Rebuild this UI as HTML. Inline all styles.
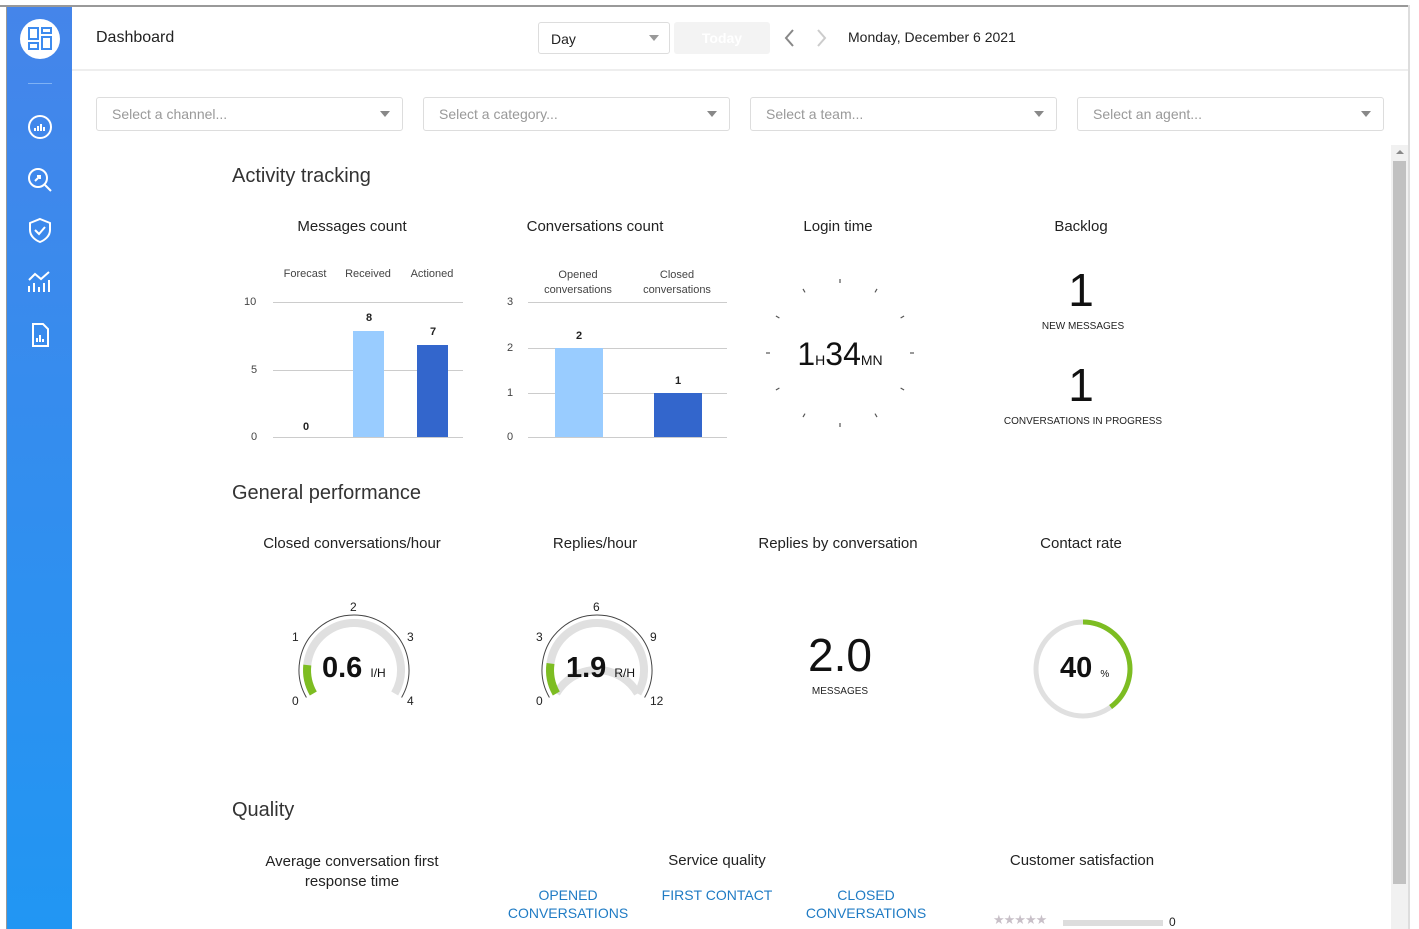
<!DOCTYPE html>
<html><head><meta charset="utf-8"><style>
*{margin:0;padding:0;box-sizing:border-box}
body{width:1419px;height:929px;overflow:hidden;background:#fff;font-family:"Liberation Sans",sans-serif;position:relative;color:#222}
.a{position:absolute;white-space:nowrap}
.c{position:absolute;white-space:nowrap;transform:translateX(-50%);text-align:center}
.sel{position:absolute;top:97px;height:34px;width:307px;border:1px solid #ddd;border-radius:3px;color:#999;font-size:14px;padding:8px 15px}
.sel:after{content:"";position:absolute;right:12px;top:13px;border:5px solid transparent;border-top:6px solid #888}
.h2{position:absolute;font-size:20px;color:#333;font-weight:300}
.t{font-size:15px;color:#222}
.ax{font-size:11px;color:#444}
.gl{position:absolute;height:1px;background:#ccc}
.blue{color:#1f7bc4;font-size:14px;line-height:18px}
</style></head><body>
<div class="a" style="left:0;top:5px;width:1410px;height:2px;background:#999"></div>
<div class="a" style="left:6px;top:5px;width:2px;height:924px;background:#999"></div>
<div class="a" style="left:7px;top:7px;width:65px;height:922px;background:linear-gradient(#4585ea,#2196f3)"></div>
<div class="a" style="left:20px;top:19px;width:40px;height:40px;border-radius:50%;background:#fff"></div>
<svg class="a" style="left:27px;top:26px" width="26" height="26" fill="none" stroke="#3d8bef" stroke-width="2"><rect x="2" y="2" width="9" height="11"/><rect x="15" y="2" width="9" height="5"/><rect x="2" y="17" width="9" height="6"/><rect x="15" y="11" width="9" height="12"/></svg>
<div class="a" style="left:28px;top:83px;width:24px;height:1px;background:#7fb2f5"></div>
<svg class="a" style="left:25px;top:112px" width="30" height="250" fill="none" stroke="#fff" stroke-width="2">
<circle cx="15" cy="15" r="11"/><path d="M10 19v-3M13 19v-5M16 19v-7M19 19v-4"/>
<circle cx="13" cy="66" r="9"/><path d="M20 73l6 6M10 69l5-5M12 64h3v3"/>
<path d="M15 107l10 4v7c0 6-5 10-10 12-5-2-10-6-10-12v-7z"/><path d="M10 118l4 4 6-7"/>
<path d="M4 180v-6M9 180v-9M14 180v-5M19 180v-9M24 180v-12M4 168l6-6 6 5 8-7"/>
<path d="M8 212h10l5 5v17H8z M12 230v-4M15 230v-7M18 230v-3"/>
</svg>
<div class="a" style="left:96px;top:29px;font-size:16px;color:#222">Dashboard</div>
<div class="a" style="left:538px;top:22px;width:132px;height:32px;border:1px solid #ddd;border-radius:3px;font-size:14px;padding:8px 12px">Day</div>
<div class="a" style="left:649px;top:35px;border:5px solid transparent;border-top:6px solid #999"></div>
<div class="a" style="left:674px;top:22px;width:96px;height:32px;background:#f3f3f3;border-radius:3px;color:#fff;font-size:14px;font-weight:bold;text-align:center;padding-top:8px">Today</div>
<svg class="a" style="left:780px;top:28px" width="50" height="20" fill="none" stroke-width="2"><path d="M13 2l-7 8 7 8" stroke="#888"/><path d="M38 2l7 8-7 8" stroke="#ccc"/></svg>
<div class="a" style="left:848px;top:29px;font-size:14px;color:#222">Monday, December 6 2021</div>
<div class="a" style="left:72px;top:69px;width:1336px;height:2px;background:#eee"></div>
<div class="a" style="left:1408px;top:5px;width:2px;height:924px;background:#ddd"></div>
<div class="sel" style="left:96px">Select a channel...</div>
<div class="sel" style="left:423px">Select a category...</div>
<div class="sel" style="left:750px">Select a team...</div>
<div class="sel" style="left:1077px">Select an agent...</div>
<div class="a" style="left:1391px;top:145px;width:17px;height:784px;background:#f1f1f1"></div>
<div class="a" style="left:1393px;top:161px;width:13px;height:723px;background:#c1c1c1"></div>
<div class="a" style="left:1396px;top:150px;border:4px solid transparent;border-bottom:4px solid #888;border-top:0"></div>

<div class="h2" style="left:232px;top:165px">Activity tracking</div>
<div class="c t" style="left:352px;top:218px">Messages count</div>
<div class="c t" style="left:595px;top:218px">Conversations count</div>
<div class="c t" style="left:838px;top:218px">Login time</div>
<div class="c t" style="left:1081px;top:218px">Backlog</div>
<!-- messages chart -->
<div class="c ax" style="left:305px;top:268px">Forecast</div>
<div class="c ax" style="left:368px;top:268px">Received</div>
<div class="c ax" style="left:432px;top:268px">Actioned</div>
<div class="gl" style="left:273px;top:302px;width:190px"></div>
<div class="gl" style="left:273px;top:370px;width:190px"></div>
<div class="gl" style="left:273px;top:437px;width:190px"></div>
<div class="a ax" style="left:244px;top:296px">10</div>
<div class="a ax" style="left:251px;top:364px">5</div>
<div class="a ax" style="left:251px;top:431px">0</div>
<div class="a" style="left:353px;top:331px;width:31px;height:106px;background:#99ccff"></div>
<div class="a" style="left:417px;top:345px;width:31px;height:92px;background:#3366cc"></div>
<div class="c" style="left:306px;top:421px;font-size:11px;font-weight:bold">0</div>
<div class="c" style="left:369px;top:312px;font-size:11px;font-weight:bold">8</div>
<div class="c" style="left:433px;top:326px;font-size:11px;font-weight:bold">7</div>
<!-- conversations chart -->
<div class="c ax" style="left:578px;top:268px;line-height:15px">Opened<br>conversations</div>
<div class="c ax" style="left:677px;top:268px;line-height:15px">Closed<br>conversations</div>
<div class="gl" style="left:528px;top:302px;width:199px"></div>
<div class="gl" style="left:528px;top:348px;width:199px"></div>
<div class="gl" style="left:528px;top:393px;width:199px"></div>
<div class="gl" style="left:528px;top:437px;width:199px"></div>
<div class="a ax" style="left:507px;top:296px">3</div>
<div class="a ax" style="left:507px;top:342px">2</div>
<div class="a ax" style="left:507px;top:387px">1</div>
<div class="a ax" style="left:507px;top:431px">0</div>
<div class="a" style="left:555px;top:348px;width:48px;height:89px;background:#99ccff"></div>
<div class="a" style="left:654px;top:393px;width:48px;height:44px;background:#3366cc"></div>
<div class="c" style="left:579px;top:330px;font-size:11px;font-weight:bold">2</div>
<div class="c" style="left:678px;top:375px;font-size:11px;font-weight:bold">1</div>
<!-- login clock -->
<svg class="a" style="left:760px;top:273px" width="160" height="160" stroke="#555" stroke-width="1.2">
<g transform="translate(80,80)">
<line x1="0" y1="-74" x2="0" y2="-70"/><line x1="0" y1="-74" x2="0" y2="-70" transform="rotate(30)"/><line x1="0" y1="-74" x2="0" y2="-70" transform="rotate(60)"/><line x1="0" y1="-74" x2="0" y2="-70" transform="rotate(90)"/><line x1="0" y1="-74" x2="0" y2="-70" transform="rotate(120)"/><line x1="0" y1="-74" x2="0" y2="-70" transform="rotate(150)"/><line x1="0" y1="-74" x2="0" y2="-70" transform="rotate(180)"/><line x1="0" y1="-74" x2="0" y2="-70" transform="rotate(210)"/><line x1="0" y1="-74" x2="0" y2="-70" transform="rotate(240)"/><line x1="0" y1="-74" x2="0" y2="-70" transform="rotate(270)"/><line x1="0" y1="-74" x2="0" y2="-70" transform="rotate(300)"/><line x1="0" y1="-74" x2="0" y2="-70" transform="rotate(330)"/>
</g></svg>
<div class="c" style="left:840px;top:336px;font-size:32px;color:#111;line-height:36px">1<span style="font-size:14px">H</span>34<span style="font-size:14px">MN</span></div>
<!-- backlog -->
<div class="c" style="left:1081px;top:265px;font-size:46px;line-height:50px;color:#111">1</div>
<div class="c" style="left:1083px;top:321px;font-size:10px;color:#222">NEW MESSAGES</div>
<div class="c" style="left:1081px;top:360px;font-size:46px;line-height:50px;color:#111">1</div>
<div class="c" style="left:1083px;top:416px;font-size:10px;color:#222">CONVERSATIONS IN PROGRESS</div>

<div class="h2" style="left:232px;top:482px">General performance</div>
<div class="c t" style="left:352px;top:535px">Closed conversations/hour</div>
<div class="c t" style="left:595px;top:535px">Replies/hour</div>
<div class="c t" style="left:838px;top:535px">Replies by conversation</div>
<div class="c t" style="left:1081px;top:535px">Contact rate</div>
<svg class="a" style="left:0;top:0" width="1419" height="929" fill="none">
<g>
<path d="M306.4 697.5 A55 55 0 1 1 401.6 697.5" stroke="#444" stroke-width="1"/>
<path d="M313.3 693.5 A47 47 0 1 1 394.7 693.5" stroke="#e0e0e0" stroke-width="8"/>
<path d="M313.3 693.5 A47 47 0 0 1 307.3 665.1" stroke="#7dbd22" stroke-width="8"/>
<path d="M549.4 697.5 A55 55 0 1 1 644.6 697.5" stroke="#444" stroke-width="1"/>
<path d="M556.3 693.5 A47 47 0 0 1 637.7 693.5" stroke="#e0e0e0" stroke-width="8"/>
<path d="M556.3 693.5 A47 47 0 1 1 637.7 693.5" stroke="#e0e0e0" stroke-width="8"/>
<path d="M556.3 693.5 A47 47 0 0 1 550.5 663.5" stroke="#7dbd22" stroke-width="8"/>
<circle cx="1083" cy="669" r="47" stroke="#e0e0e0" stroke-width="5"/>
<path d="M1083 622 A47 47 0 0 1 1110.6 707" stroke="#7dbd22" stroke-width="5"/>
</g></svg>
<div class="a" style="left:350px;top:600px;font-size:12px">2</div>
<div class="a" style="left:292px;top:630px;font-size:12px">1</div>
<div class="a" style="left:407px;top:630px;font-size:12px">3</div>
<div class="a" style="left:292px;top:694px;font-size:12px">0</div>
<div class="a" style="left:407px;top:694px;font-size:12px">4</div>
<div class="a" style="left:322px;top:652px;font-size:29px;font-weight:bold;color:#111">0.6 <span style="font-size:12px;font-weight:normal">I/H</span></div>
<div class="a" style="left:593px;top:600px;font-size:12px">6</div>
<div class="a" style="left:536px;top:630px;font-size:12px">3</div>
<div class="a" style="left:650px;top:630px;font-size:12px">9</div>
<div class="a" style="left:536px;top:694px;font-size:12px">0</div>
<div class="a" style="left:650px;top:694px;font-size:12px">12</div>
<div class="a" style="left:566px;top:652px;font-size:29px;font-weight:bold;color:#111">1.9 <span style="font-size:12px;font-weight:normal">R/H</span></div>
<div class="c" style="left:840px;top:630px;font-size:46px;line-height:50px;color:#111">2.0</div>
<div class="c" style="left:840px;top:686px;font-size:10px">MESSAGES</div>
<div class="a" style="left:1060px;top:652px;font-size:29px;font-weight:bold;color:#111">40 <span style="font-size:10px;font-weight:normal">%</span></div>

<div class="h2" style="left:232px;top:799px">Quality</div>
<div class="c t" style="left:352px;top:852px;line-height:20px">Average conversation first<br>response time</div>
<div class="c t" style="left:717px;top:852px">Service quality</div>
<div class="c t" style="left:1082px;top:852px">Customer satisfaction</div>
<div class="c blue" style="left:568px;top:886px">OPENED<br>CONVERSATIONS</div>
<div class="c blue" style="left:717px;top:886px">FIRST CONTACT</div>
<div class="c blue" style="left:866px;top:886px">CLOSED<br>CONVERSATIONS</div>
<div class="a" style="left:993px;top:912px;font-size:13px;color:#c8c0c8;letter-spacing:-1px">★★★★★</div>
<div class="a" style="left:1063px;top:920px;width:100px;height:6px;background:#ddd"></div>
<div class="a" style="left:1169px;top:915px;font-size:12px">0</div>
</body></html>
